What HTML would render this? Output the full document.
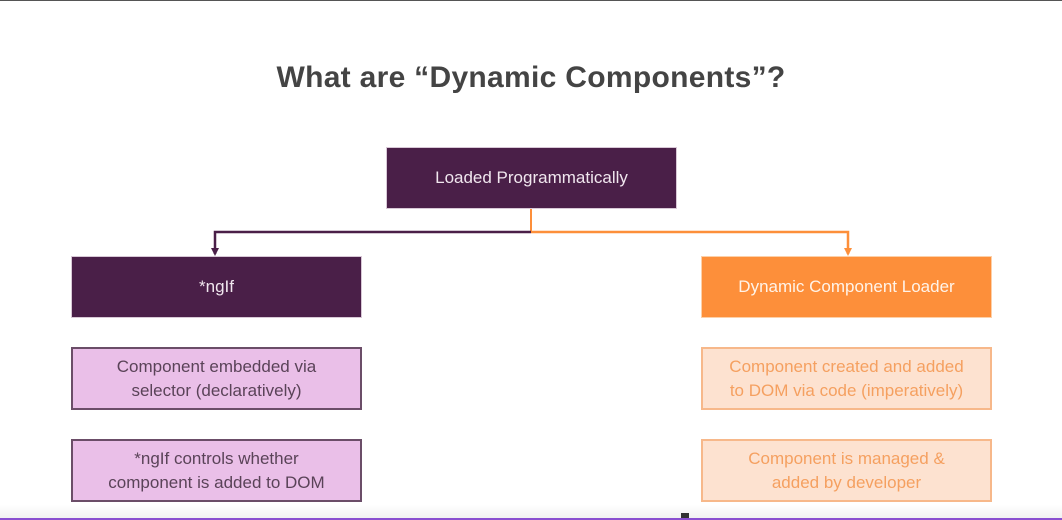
<!DOCTYPE html>
<html><head><meta charset="utf-8"><style>
body{margin:0;width:1062px;height:520px;background:#fff;position:relative;overflow:hidden;font-family:"Liberation Sans",sans-serif}
.top{position:absolute;left:0;top:0;width:1062px;height:1px;background:#555}
.bot{position:absolute;left:0;top:518px;width:1062px;height:2px;background:#8a4fd0}
.shade{position:absolute;left:0;top:505px;width:1062px;height:13px;background:linear-gradient(#fff,#f2f2f2)}
h1{position:absolute;left:0;width:1062px;top:61px;margin:0;text-align:center;font-size:30px;font-weight:bold;color:#444;letter-spacing:0.3px}
.b{position:absolute;box-sizing:border-box;display:flex;align-items:center;justify-content:center;text-align:center;font-size:17px;line-height:24px}
.dk{background:#4a1f48;color:#f0e6ee;border:1px solid #d8c8d6}
.or{background:#fd8f3a;color:#fff3e8;border:1px solid #fdd0a8}
.pk{background:#eabfe8;color:#5a4358;border:2px solid #6b4d68}
.lo{background:#fde2d0;color:#f5a060;border:2px solid #f7b88a}
</style></head><body>
<div class="top"></div>
<h1>What are “Dynamic Components”?</h1>
<div class="b dk" style="left:386px;top:147px;width:291px;height:62px">Loaded Programmatically</div>
<div class="b dk" style="left:71px;top:256px;width:291px;height:62px">*ngIf</div>
<div class="b or" style="left:701px;top:256px;width:291px;height:62px">Dynamic Component Loader</div>
<div class="b pk" style="left:71px;top:347px;width:291px;height:63px">Component embedded via<br>selector (declaratively)</div>
<div class="b pk" style="left:71px;top:439px;width:291px;height:63px">*ngIf controls whether<br>component is added to DOM</div>
<div class="b lo" style="left:701px;top:347px;width:291px;height:63px">Component created and added<br>to DOM via code (imperatively)</div>
<div class="b lo" style="left:701px;top:439px;width:291px;height:63px">Component is managed &amp;<br>added by developer</div>
<svg style="position:absolute;left:0;top:0" width="1062" height="520">
<path d="M531 209V232" stroke="#fd8f3a" stroke-width="2" fill="none"/>
<path d="M531 232H215V254" stroke="#4a1f48" stroke-width="2.5" fill="none"/>
<path d="M531 232H848V254" stroke="#fd8f3a" stroke-width="2.5" fill="none"/>
<path d="M211 248L215 256L219 248Z" fill="#4a1f48"/>
<path d="M844 248L848 256L852 248Z" fill="#fd8f3a"/>
</svg>
<div class="shade"></div>
<div style="position:absolute;left:681px;top:513px;width:8px;height:6px;background:#333"></div>
<div class="bot"></div>
</body></html>
